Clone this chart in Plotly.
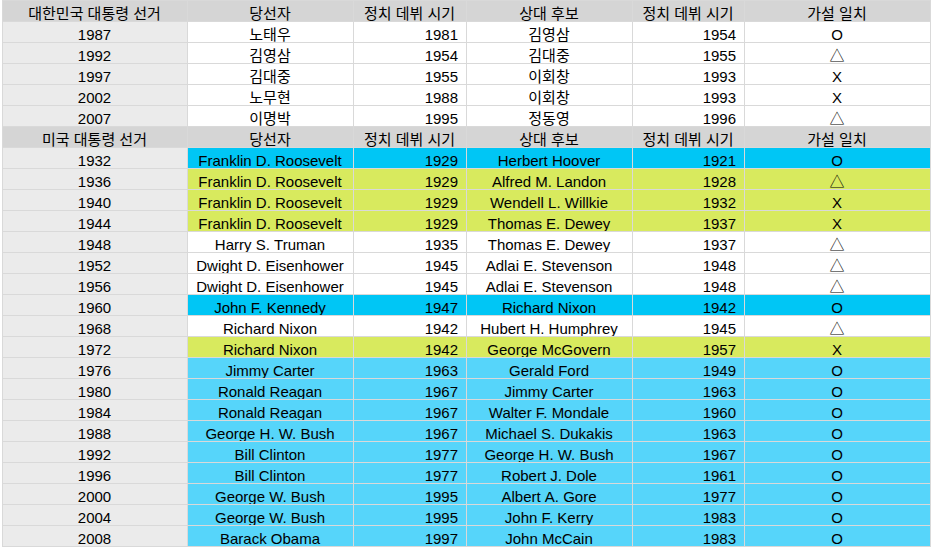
import plotly.graph_objects as go

# Korean elections
kr_header = ['대한민국 대통령 선거', '당선자', '정치 데뷔 시기', '상대 후보', '정치 데뷔 시기', '가설 일치']
kr_year = ['1987', '1992', '1997', '2002', '2007']
kr_winner = ['노태우', '김영삼', '김대중', '노무현', '이명박']
kr_winner_debut = [1981, 1954, 1955, 1988, 1995]
kr_rival = ['김영삼', '김대중', '이회창', '이회창', '정동영']
kr_rival_debut = [1954, 1955, 1993, 1993, 1996]
kr_match = ['O', '△', 'X', 'X', '△']

# US elections
us_header = ['미국 대통령 선거', '당선자', '정치 데뷔 시기', '상대 후보', '정치 데뷔 시기', '가설 일치']
us_year = ['1932', '1936', '1940', '1944', '1948', '1952', '1956', '1960', '1968', '1972',
           '1976', '1980', '1984', '1988', '1992', '1996', '2000', '2004', '2008']
us_winner = ['Franklin D. Roosevelt', 'Franklin D. Roosevelt', 'Franklin D. Roosevelt',
             'Franklin D. Roosevelt', 'Harry S. Truman', 'Dwight D. Eisenhower',
             'Dwight D. Eisenhower', 'John F. Kennedy', 'Richard Nixon', 'Richard Nixon',
             'Jimmy Carter', 'Ronald Reagan', 'Ronald Reagan', 'George H. W. Bush',
             'Bill Clinton', 'Bill Clinton', 'George W. Bush', 'George W. Bush', 'Barack Obama']
us_winner_debut = [1929, 1929, 1929, 1929, 1935, 1945, 1945, 1947, 1942, 1942,
                   1963, 1967, 1967, 1967, 1977, 1977, 1995, 1995, 1997]
us_rival = ['Herbert Hoover', 'Alfred M. Landon', 'Wendell L. Willkie', 'Thomas E. Dewey',
            'Thomas E. Dewey', 'Adlai E. Stevenson', 'Adlai E. Stevenson', 'Richard Nixon',
            'Hubert H. Humphrey', 'George McGovern', 'Gerald Ford', 'Jimmy Carter',
            'Walter F. Mondale', 'Michael S. Dukakis', 'George H. W. Bush', 'Robert J. Dole',
            'Albert A. Gore', 'John F. Kerry', 'John McCain']
us_rival_debut = [1921, 1928, 1932, 1937, 1937, 1948, 1948, 1942, 1945, 1957,
                  1949, 1963, 1960, 1963, 1967, 1961, 1977, 1983, 1983]
us_match = ['O', '△', 'X', 'X', '△', '△', '△', 'O', '△', 'X',
            'O', 'O', 'O', 'O', 'O', 'O', 'O', 'O', 'O']
# row highlight group
us_group = ['cyan', 'lime', 'lime', 'lime', 'none', 'none', 'none', 'cyan', 'none', 'lime',
            'blue', 'blue', 'blue', 'blue', 'blue', 'blue', 'blue', 'blue', 'blue']

group_colors = {'none': 'white', 'cyan': '#00c6f5', 'lime': '#d8ea5e', 'blue': '#56d5fa'}

HEADER_GRAY = '#d5d5d5'
FIRST_COL = '#ebebeb'
LINE = '#d9d9d9'
FONT = dict(family='Liberation Sans, Noto Sans CJK KR, sans-serif', size=15, color='black')
ROW_H = 21
col_widths = [185, 166, 113, 166, 112, 186]
aligns = ['center', 'center', 'right', 'center', 'right', 'center']

W, H = 931, 552


def nowrap(names):
    # non-breaking spaces so plotly doesn't wrap long names onto two lines
    return [n.replace(' ', '\u00a0') for n in names]


def make_table(header, cols, row_colors, y0, y1):
    # y0/y1 = top/bottom in px; domain in paper fraction
    fills = [[FIRST_COL] * len(row_colors)] + [row_colors] * 5
    return go.Table(
        domain=dict(x=[0, 1], y=[1 - y1 / H, 1 - y0 / H]),
        columnwidth=col_widths,
        header=dict(values=header, fill_color=HEADER_GRAY, line_color=LINE,
                    align='center', font=FONT, height=ROW_H),
        cells=dict(values=cols, fill_color=fills, line_color=LINE,
                   align=aligns, font=FONT, height=ROW_H),
    )


kr_cols = [kr_year, kr_winner, kr_winner_debut, kr_rival, kr_rival_debut, kr_match]
us_cols = [us_year, nowrap(us_winner), us_winner_debut, nowrap(us_rival), us_rival_debut, us_match]

kr_bottom = (len(kr_year) + 1) * ROW_H

fig = go.Figure()
fig.add_trace(make_table(kr_header, kr_cols, ['white'] * len(kr_year), 0, kr_bottom + 1))
fig.add_trace(make_table(us_header, us_cols, [group_colors[g] for g in us_group],
                         kr_bottom, H))

fig.update_layout(width=W, height=H, margin=dict(l=2, r=1, t=0, b=0),
                  paper_bgcolor='white')

# drop the default page margin so the figure sits at the window corner
fig.write_html("out.html", config={'displayModeBar': False},
               post_script="document.body.style.margin='0';document.body.style.overflow='hidden';")
